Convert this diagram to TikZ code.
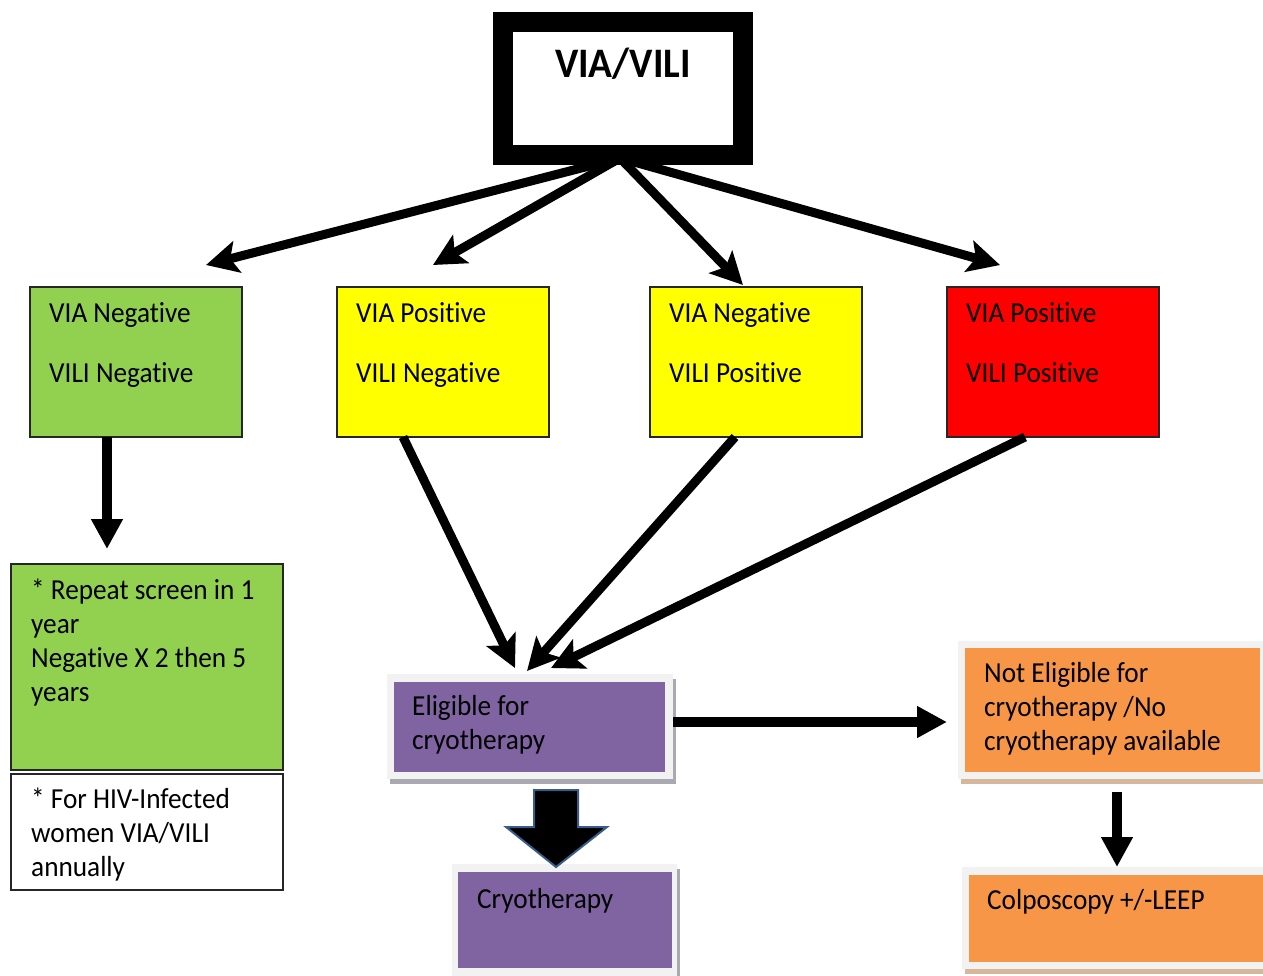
\documentclass[tikz,border=0pt]{standalone}
\usepackage{fontspec}
\setmainfont{Carlito}[FakeStretch=0.94,Ligatures=NoCommon]
\usetikzlibrary{arrows.meta}
\usetikzlibrary{positioning}
\usetikzlibrary{shadows}
\definecolor{lgreen}{HTML}{92D050}
\definecolor{cyellow}{HTML}{FFFF00}
\definecolor{cred}{HTML}{FF0000}
\definecolor{cpurple}{HTML}{8064A2}
\definecolor{corange}{HTML}{F79646}
\definecolor{framegray}{HTML}{F2F2F2}
\definecolor{pshadow}{HTML}{A9A9B2}
\definecolor{oshadow}{HTML}{D6B79C}
\definecolor{arrowblue}{HTML}{385D8A}
\tikzset{
  box/.style={draw=black!85,line width=1.5pt,minimum width=212pt,minimum height=150pt,inner sep=0pt,outer sep=0pt},
  frame/.style={fill=framegray,anchor=north west,inner sep=0pt,outer sep=0pt,
    drop shadow={shadow xshift=3pt,shadow yshift=-5pt,opacity=1,fill=#1}},
  inner/.style={anchor=north west,inner sep=0pt,outer sep=0pt},
  txt/.style={anchor=base west,inner sep=0pt,align=left},
  arr/.style={line width=9pt,-{Stealth[length=32pt,width=32pt,inset=7pt]}},
  tarr/.style={line width=10pt,-{Triangle[length=30pt,width=30pt]}}
}
\begin{document}
\begin{tikzpicture}[x=1pt,y=-1pt,font=\fontsize{29}{34}\selectfont]
  \clip (0,0) rectangle (1263,975);

  % second row (text nodes sit on their last baseline)
  \node[box,fill=lgreen,anchor=north west] (nn) at (30,287) {};
  \node[box,fill=cyellow,right=95pt of nn] (pn) {};
  \node[box,fill=cyellow,right=101pt of pn] (np) {};
  \node[box,fill=cred,right=85pt of np] (pp) {};
  \node[txt] (nnt) at ([shift={(19,95)}]nn.north west) {VIA Negative\\[26pt]VILI Negative};
  \node[txt] (pnt) at ([shift={(19,95)}]pn.north west) {VIA Positive\\[26pt]VILI Negative};
  \node[txt] (npt) at ([shift={(19,95)}]np.north west) {VIA Negative\\[26pt]VILI Positive};
  \node[txt] (ppt) at ([shift={(19,95)}]pp.north west) {VIA Positive\\[26pt]VILI Positive};

  % arrows from the top box
  \coordinate (src) at (620,158);
  \coordinate (tnn) at (206,265);
  \coordinate (tpn) at (433,265);
  \coordinate (tnp) at (743,285);
  \coordinate (tpp) at (1000,265);
  \draw[arr] (src) -- (tnn);
  \draw[arr] (src) -- (tpn);
  \draw[arr] (src) -- (tnp);
  \draw[arr] (src) -- (tpp);

  \node[draw,fill=white,line width=20pt,minimum width=240pt,minimum height=133pt,inner sep=0pt] (via) at (623,88.5) {};
  \node[anchor=base,font=\bfseries\fontsize{42}{50}\selectfont] (vial) at (623,77) {VIA/VILI};

  % negative branch
  \node[box,fill=lgreen,anchor=north west,line width=2pt,minimum width=272pt,minimum height=206pt] (rep) at (11,564) {};
  \node[box,fill=white,line width=2pt,minimum width=272pt,minimum height=116pt,below=4pt of rep] (hiv) {};
  \node[txt] (rept) at ([shift={(20,137)}]rep.north west) {* Repeat screen in 1\\year\\Negative X 2 then 5\\years};
  \node[txt] (hivt) at ([shift={(20,102)}]hiv.north west) {* For HIV-Infected\\women VIA/VILI\\annually};
  \coordinate (trep) at (107,549);
  \draw[tarr] ([xshift=-29pt]nn.south) -- (trep);

  % eligible for cryotherapy
  \node[frame=pshadow,minimum width=286pt,minimum height=105pt] (elig) at (387,674) {};
  \node[inner,fill=cpurple,minimum width=271pt,minimum height=90pt] (eligin) at ([shift={(7,8)}]elig.north west) {};
  \node[txt] (eligt) at ([shift={(18,67)}]eligin.north west) {Eligible for\\cryotherapy};

  \coordinate (tel1) at (515,668);
  \coordinate (tel2) at (527,671);
  \coordinate (tel3) at (551,668);
  \draw[arr] ([xshift=-40pt]pn.south) -- (tel1);
  \draw[arr] ([xshift=-21pt]np.south) -- (tel2);
  \draw[arr] ([xshift=-28pt]pp.south) -- (tel3);

  % not eligible
  \node[frame=oshadow,minimum width=312pt,minimum height=138pt] (nel) at (958,641) {};
  \node[inner,fill=corange,minimum width=295pt,minimum height=124pt] (nelin) at ([shift={(7,7)}]nel.north west) {};
  \node[txt] (nelt) at ([shift={(19,102)}]nelin.north west) {Not Eligible for\\cryotherapy /No\\cryotherapy available};
  \coordinate (tnel) at (947,722);
  \draw[tarr] ([yshift=4.5pt]elig.east) -- (tnel);

  % cryotherapy
  \node[frame=pshadow,minimum width=225pt,minimum height=115pt] (cryo) at (452,864) {};
  \node[inner,fill=cpurple,minimum width=214pt,minimum height=96pt] (cryoin) at ([shift={(6,8)}]cryo.north west) {};
  \node[txt] (cryot) at ([shift={(19,36)}]cryoin.north west) {Cryotherapy};
  \draw[fill=black,draw=arrowblue,line width=2pt,line join=miter]
    (534,790) -- (578,790) -- (578,827) -- (607,827) -- (556,867) -- (506,827) -- (534,827) -- cycle;

  % colposcopy
  \node[frame=oshadow,minimum width=310pt,minimum height=102pt] (colpo) at (962,867) {};
  \node[inner,fill=corange,minimum width=300pt,minimum height=87pt] (colpoin) at ([shift={(7,8)}]colpo.north west) {};
  \node[txt] (colpot) at ([shift={(18,34)}]colpoin.north west) {Colposcopy +/-LEEP};
  \coordinate (scol) at (1117,792);
  \coordinate (tcol) at (1117,867);
  \draw[tarr] (scol) -- (tcol);
\end{tikzpicture}
\end{document}
